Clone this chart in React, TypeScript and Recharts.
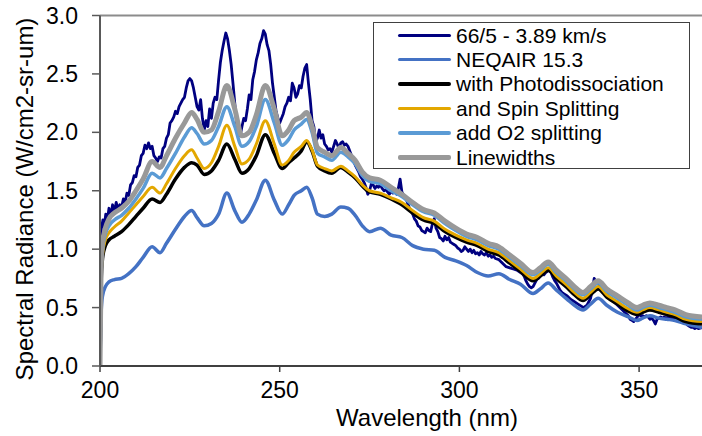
import { LineChart, Line, XAxis, YAxis, ReferenceLine, Label } from 'recharts';

// wavelength grid (nm) shared by the computed spectra
const wavelengths = [
  200, 200.3, 200.7, 201.5, 202.5, 204, 206, 208, 210, 212,
  214.5, 216.7, 218.5, 221, 223.5, 225.5, 227, 229, 231, 233,
  235.3, 237.5, 239.5, 241.5, 243.5, 246, 248.5, 250.7, 252.5, 254,
  256, 257.5, 259, 260.5, 262.5, 264.5, 267, 269, 271, 273,
  275, 278, 281, 284, 287, 290, 293, 296, 299, 302,
  305, 308, 311, 314, 317, 320.5, 322.5, 324.7, 327, 330,
  332, 334.4, 336.5, 338.6, 341, 344, 347, 349.4, 351, 353,
  355.5, 357.7, 360, 363, 367.5,
];

const neqair = [
  0, 0.45, 0.6, 0.68, 0.72, 0.74, 0.75, 0.79, 0.85, 0.93,
  1.02, 0.97, 1.05, 1.17, 1.28, 1.33, 1.27, 1.2, 1.22, 1.3,
  1.48, 1.33, 1.23, 1.3, 1.42, 1.59, 1.42, 1.3, 1.38, 1.46,
  1.5, 1.53, 1.44, 1.3, 1.28, 1.3, 1.36, 1.35, 1.29, 1.2,
  1.15, 1.18, 1.12, 1.1, 1.03, 1.0, 0.99, 0.93, 0.9, 0.86,
  0.8, 0.77, 0.79, 0.74, 0.7, 0.62, 0.66, 0.71, 0.65, 0.57,
  0.52, 0.48, 0.53, 0.58, 0.52, 0.46, 0.42, 0.39, 0.41, 0.43,
  0.41, 0.4, 0.39, 0.36, 0.33,
];

const photodissociation = [
  0, 0.7, 0.92, 1.03, 1.08, 1.11, 1.15, 1.21, 1.28, 1.35,
  1.43, 1.4, 1.47, 1.6, 1.7, 1.74, 1.72, 1.64, 1.67, 1.76,
  1.9, 1.77, 1.65, 1.69, 1.8, 1.98, 1.82, 1.69, 1.74, 1.78,
  1.84, 1.92, 1.84, 1.71, 1.67, 1.65, 1.7, 1.66, 1.61, 1.54,
  1.49, 1.47, 1.43, 1.38, 1.31, 1.25, 1.22, 1.15, 1.1, 1.06,
  1.03, 0.98, 0.95, 0.88, 0.81, 0.73, 0.77, 0.82, 0.75, 0.67,
  0.61, 0.56, 0.61, 0.66, 0.59, 0.53, 0.47, 0.44, 0.46, 0.48,
  0.46, 0.44, 0.42, 0.38, 0.36,
];

const spinSplitting = [
  0, 0.75, 0.95, 1.08, 1.14, 1.19, 1.24, 1.31, 1.38, 1.45,
  1.53, 1.48, 1.56, 1.69, 1.8, 1.85, 1.78, 1.69, 1.74, 1.88,
  2.06, 1.88, 1.73, 1.77, 1.9, 2.1, 1.9, 1.72, 1.76, 1.83,
  1.88, 1.93, 1.85, 1.72, 1.69, 1.67, 1.71, 1.67, 1.62, 1.55,
  1.5, 1.48, 1.44, 1.4, 1.33, 1.27, 1.24, 1.17, 1.12, 1.08,
  1.05, 1.0, 0.97, 0.9, 0.83, 0.75, 0.79, 0.84, 0.77, 0.69,
  0.63, 0.58, 0.63, 0.68, 0.61, 0.55, 0.49, 0.46, 0.48, 0.5,
  0.48, 0.46, 0.44, 0.4, 0.38,
];

const o2Splitting = [
  0, 0.8, 1.0, 1.13, 1.2, 1.25, 1.29, 1.35, 1.43, 1.52,
  1.65, 1.61, 1.69, 1.82, 1.96, 2.04, 1.99, 1.9, 1.93, 2.05,
  2.22, 2.05, 1.88, 1.92, 2.05, 2.28, 2.08, 1.89, 1.94, 2.02,
  2.07, 2.11, 2.0, 1.82, 1.79, 1.76, 1.83, 1.79, 1.73, 1.63,
  1.58, 1.56, 1.5, 1.45, 1.38, 1.32, 1.29, 1.22, 1.16, 1.11,
  1.08, 1.03, 1.0, 0.93, 0.86, 0.78, 0.82, 0.87, 0.8, 0.72,
  0.66, 0.61, 0.66, 0.71, 0.64, 0.58, 0.52, 0.48, 0.5, 0.52,
  0.5, 0.48, 0.46, 0.42, 0.4,
];

const linewidths = [
  0, 0.85, 1.05, 1.18, 1.26, 1.31, 1.35, 1.41, 1.5, 1.6,
  1.75, 1.7, 1.8, 1.95, 2.08, 2.17, 2.11, 2.0, 2.02, 2.18,
  2.4, 2.2, 1.97, 2.0, 2.15, 2.4, 2.2, 1.97, 2.02, 2.1,
  2.13, 2.17, 2.05, 1.87, 1.83, 1.8, 1.87, 1.82, 1.76, 1.66,
  1.61, 1.59, 1.53, 1.47, 1.4, 1.34, 1.31, 1.24, 1.18, 1.13,
  1.1, 1.05, 1.02, 0.95, 0.88, 0.8, 0.84, 0.89, 0.82, 0.74,
  0.68, 0.63, 0.68, 0.73, 0.66, 0.6, 0.54, 0.5, 0.52, 0.54,
  0.52, 0.5, 0.48, 0.44, 0.42,
];

// measured shot 66/5 [wavelength, radiance]
const shot66: [number, number][] = [
  [200, 1.0], [200.4, 1.18], [200.8, 1.25], [201.2, 1.2], [201.6, 1.3], [202, 1.24], [202.5, 1.35], [203, 1.28],
  [203.5, 1.38], [204, 1.32], [204.5, 1.4], [205, 1.34], [205.5, 1.38], [206, 1.36], [206.5, 1.43], [207, 1.4],
  [207.5, 1.48], [208, 1.46], [208.5, 1.55], [209, 1.57], [209.5, 1.63], [210, 1.62], [210.5, 1.7], [211, 1.72],
  [211.5, 1.8], [212, 1.82], [212.5, 1.89], [213, 1.86], [213.5, 1.91], [214, 1.86], [214.5, 1.88], [215, 1.8],
  [215.5, 1.78], [216, 1.75], [216.5, 1.79], [217, 1.78], [217.5, 1.86], [218, 1.88], [218.5, 1.95], [219, 1.98],
  [219.5, 2.08], [220, 2.1], [220.5, 2.13], [221, 2.18], [221.5, 2.16], [222, 2.22], [222.5, 2.25], [223, 2.28],
  [223.5, 2.3], [224, 2.38], [224.5, 2.44], [225, 2.46], [225.5, 2.44], [226, 2.38], [226.5, 2.3], [227, 2.22],
  [227.5, 2.19], [228, 2.28], [228.5, 2.12], [229, 2.02], [229.5, 2.1], [230, 2.05], [230.5, 2.2], [231, 2.12],
  [231.5, 2.25], [232, 2.3], [232.5, 2.28], [233, 2.45], [233.5, 2.6], [234, 2.7], [234.5, 2.78], [235, 2.85],
  [235.5, 2.8], [236, 2.7], [236.5, 2.58], [237, 2.42], [237.5, 2.25], [238, 2.08], [238.5, 2.02], [239, 1.97],
  [239.5, 2.05], [240, 2.12], [240.5, 2.1], [241, 2.2], [241.5, 2.32], [242, 2.28], [242.5, 2.45], [243, 2.52],
  [243.5, 2.62], [244, 2.68], [244.5, 2.76], [245, 2.8], [245.5, 2.87], [246, 2.84], [246.5, 2.75], [247, 2.7],
  [247.5, 2.58], [248, 2.42], [248.5, 2.3], [249, 2.18], [249.5, 2.12], [250, 2.08], [250.5, 2.12], [251, 2.16],
  [251.5, 2.22], [252, 2.25], [252.5, 2.3], [253, 2.27], [253.5, 2.42], [254, 2.38], [254.5, 2.3], [255, 2.33],
  [255.5, 2.4], [256, 2.38], [256.5, 2.48], [257, 2.55], [257.5, 2.58], [258, 2.42], [258.5, 2.28], [259, 2.1],
  [259.5, 2.05], [260, 1.92], [260.5, 1.95], [261, 2.02], [261.5, 1.95], [262, 1.98], [262.5, 1.9], [263, 1.88],
  [263.5, 1.85], [264, 1.86], [264.5, 1.83], [265, 1.88], [265.5, 1.93], [266, 1.9], [266.5, 1.86], [267, 1.91],
  [267.5, 1.92], [268, 1.89], [268.5, 1.9], [269, 1.88], [269.5, 1.84], [270, 1.8], [270.5, 1.76], [271, 1.72],
  [271.5, 1.69], [272, 1.66], [272.5, 1.62], [273, 1.6], [273.5, 1.57], [274, 1.53], [274.5, 1.47], [275, 1.5],
  [275.5, 1.56], [276, 1.55], [276.5, 1.52], [277, 1.54], [277.5, 1.53], [278, 1.55], [278.5, 1.52], [279, 1.5],
  [279.5, 1.51], [280, 1.49], [280.5, 1.47], [281, 1.5], [281.5, 1.48], [282, 1.49], [282.5, 1.47], [283, 1.52],
  [283.5, 1.6], [284, 1.49], [284.5, 1.46], [285, 1.45], [285.5, 1.4], [286, 1.36], [286.5, 1.33], [287, 1.3],
  [287.5, 1.26], [288, 1.24], [288.5, 1.2], [289, 1.19], [289.5, 1.16], [290, 1.15], [290.5, 1.14], [291, 1.18],
  [291.5, 1.16], [292, 1.15], [292.5, 1.22], [293, 1.26], [293.5, 1.18], [294, 1.15], [294.5, 1.1], [295, 1.09],
  [295.5, 1.07], [296, 1.11], [296.5, 1.08], [297, 1.1], [297.5, 1.06], [298, 1.05], [298.5, 1.04], [299, 1.03],
  [299.5, 1.01], [300, 1.0], [300.5, 0.98], [301, 0.99], [301.5, 1.02], [302, 1.0], [302.5, 0.98], [303, 1.0],
  [303.5, 0.97], [304, 0.99], [304.5, 0.96], [305, 0.97], [305.5, 0.95], [306, 0.98], [306.5, 0.96], [307, 0.95],
  [307.5, 0.97], [308, 0.94], [308.5, 0.95], [309, 0.93], [309.5, 0.94], [310, 0.92], [311, 0.91], [312, 0.88],
  [313, 0.85], [314, 0.84], [315, 0.83], [316, 0.82], [317, 0.8], [317.5, 0.79], [318, 0.77], [318.5, 0.73],
  [319, 0.7], [319.5, 0.68], [320, 0.67], [320.5, 0.68], [321, 0.71], [321.5, 0.74], [322, 0.75], [322.5, 0.77],
  [323, 0.79], [323.5, 0.78], [324, 0.8], [324.5, 0.81], [325, 0.82], [325.5, 0.8], [326, 0.76], [326.5, 0.73],
  [327, 0.71], [327.5, 0.68], [328, 0.65], [328.5, 0.63], [329, 0.62], [330, 0.6], [331, 0.57], [332, 0.55],
  [333, 0.53], [334, 0.51], [334.5, 0.5], [335, 0.51], [335.5, 0.52], [336, 0.55], [336.5, 0.58], [337, 0.65],
  [337.5, 0.75], [338, 0.72], [338.5, 0.71], [339, 0.69], [339.5, 0.7], [340, 0.66], [341, 0.62], [342, 0.58],
  [343, 0.55], [344, 0.52], [345, 0.49], [346, 0.46], [347, 0.43], [347.5, 0.4], [348, 0.39], [348.5, 0.38],
  [349, 0.4], [349.5, 0.42], [350, 0.44], [350.5, 0.43], [351, 0.43], [351.5, 0.42], [352, 0.43], [352.5, 0.42],
  [353, 0.4], [353.5, 0.41], [354, 0.39], [354.5, 0.36], [355, 0.4], [355.5, 0.41], [356, 0.42], [356.5, 0.41],
  [357, 0.42], [357.5, 0.41], [358, 0.42], [358.5, 0.42], [359, 0.41], [359.5, 0.41], [360, 0.4], [361, 0.4],
  [361.5, 0.39], [362, 0.38], [362.5, 0.39], [363, 0.37], [363.5, 0.35], [364, 0.34], [364.5, 0.33], [365, 0.33],
  [365.5, 0.32], [366, 0.33], [366.5, 0.32], [367.5, 0.33],
];

const xTicks = [200, 250, 300, 350];
const yTicks = [0, 0.5, 1.0, 1.5, 2.0, 2.5, 3.0];

const FONT = 'Liberation Sans, Arial, Helvetica, sans-serif';

const toPoints = (xs: number[], ys: number[]) => xs.map((x, i) => ({ x, y: ys[i] }));

const series = [
  { name: '66/5 - 3.89 km/s', color: '#000080', width: 2.8, data: shot66.map(([x, y]) => ({ x, y })), type: 'linear' },
  { name: 'NEQAIR 15.3', color: '#4472C4', width: 3.5, data: toPoints(wavelengths, neqair), type: 'monotone' },
  { name: 'with Photodissociation', color: '#000000', width: 3.5, data: toPoints(wavelengths, photodissociation), type: 'monotone' },
  { name: 'and Spin Splitting', color: '#E3A700', width: 3, data: toPoints(wavelengths, spinSplitting), type: 'monotone' },
  { name: 'add O2 splitting', color: '#5B9BD5', width: 3.5, data: toPoints(wavelengths, o2Splitting), type: 'monotone' },
  { name: 'Linewidths', color: '#999999', width: 5, data: toPoints(wavelengths, linewidths), type: 'monotone' },
];

// legend box drawn over the plot, same place as the spreadsheet one
const LegendBox = () => (
  <div
    style={{
      position: 'absolute',
      left: 373,
      top: 22,
      width: 317,
      height: 147,
      border: '1px solid #404040',
      background: '#fff',
      boxSizing: 'border-box',
    }}
  >
    {series.map((s) => (
      <div key={s.name} style={{ display: 'flex', alignItems: 'center', height: 24.4 }}>
        <div style={{ marginLeft: 24, width: 53, height: s.width, background: s.color, borderRadius: 2 }} />
        <span style={{ marginLeft: 5, fontFamily: FONT, fontSize: 21, color: '#000', lineHeight: 1 }}>{s.name}</span>
      </div>
    ))}
  </div>
);

const XTitle = () => (
  <text x={427} y={426} textAnchor="middle" fontFamily={FONT} fontSize={24} fill="#000">
    Wavelength (nm)
  </text>
);

const YTitle = () => (
  <text
    x={24}
    y={199}
    transform="rotate(-90, 24, 199)"
    textAnchor="middle"
    dominantBaseline="central"
    fontFamily={FONT}
    fontSize={24}
    fill="#000"
  >
    Spectral Radiance (W/cm2-sr-um)
  </text>
);

export default function App() {
  return (
    <div style={{ position: 'absolute', left: 0, top: 0, width: 702, height: 436, background: '#fff' }}>
      <LineChart width={702} height={436} margin={{ top: 15.5, right: 0, left: 0, bottom: 0 }}>
        <XAxis
          dataKey="x"
          type="number"
          domain={[200, 367.5]}
          ticks={xTicks}
          allowDataOverflow
          height={70}
          tickSize={6}
          tickMargin={10}
          tick={{ fontFamily: FONT, fontSize: 23, fill: '#000' }}
          axisLine={{ stroke: '#404040', strokeWidth: 2 }}
          tickLine={{ stroke: '#404040', strokeWidth: 1.5 }}
        >
          <Label content={XTitle} />
        </XAxis>
        <YAxis
          type="number"
          domain={[0, 3]}
          ticks={yTicks}
          allowDataOverflow
          width={100}
          tickSize={8}
          tickMargin={14}
          tickFormatter={(v: number) => v.toFixed(1)}
          tick={{ fontFamily: FONT, fontSize: 23, fill: '#000' }}
          axisLine={{ stroke: '#595959', strokeWidth: 2 }}
          tickLine={{ stroke: '#595959', strokeWidth: 1.5 }}
        >
          <Label content={YTitle} />
        </YAxis>
        <ReferenceLine y={3} stroke="#8c8c8c" strokeWidth={2} />
        {series.map((s) => (
          <Line
            key={s.name}
            data={s.data}
            dataKey="y"
            name={s.name}
            type={s.type as any}
            stroke={s.color}
            strokeWidth={s.width}
            strokeLinejoin="round"
            dot={false}
            activeDot={false}
            isAnimationActive={false}
          />
        ))}
      </LineChart>
      <LegendBox />
    </div>
  );
}
